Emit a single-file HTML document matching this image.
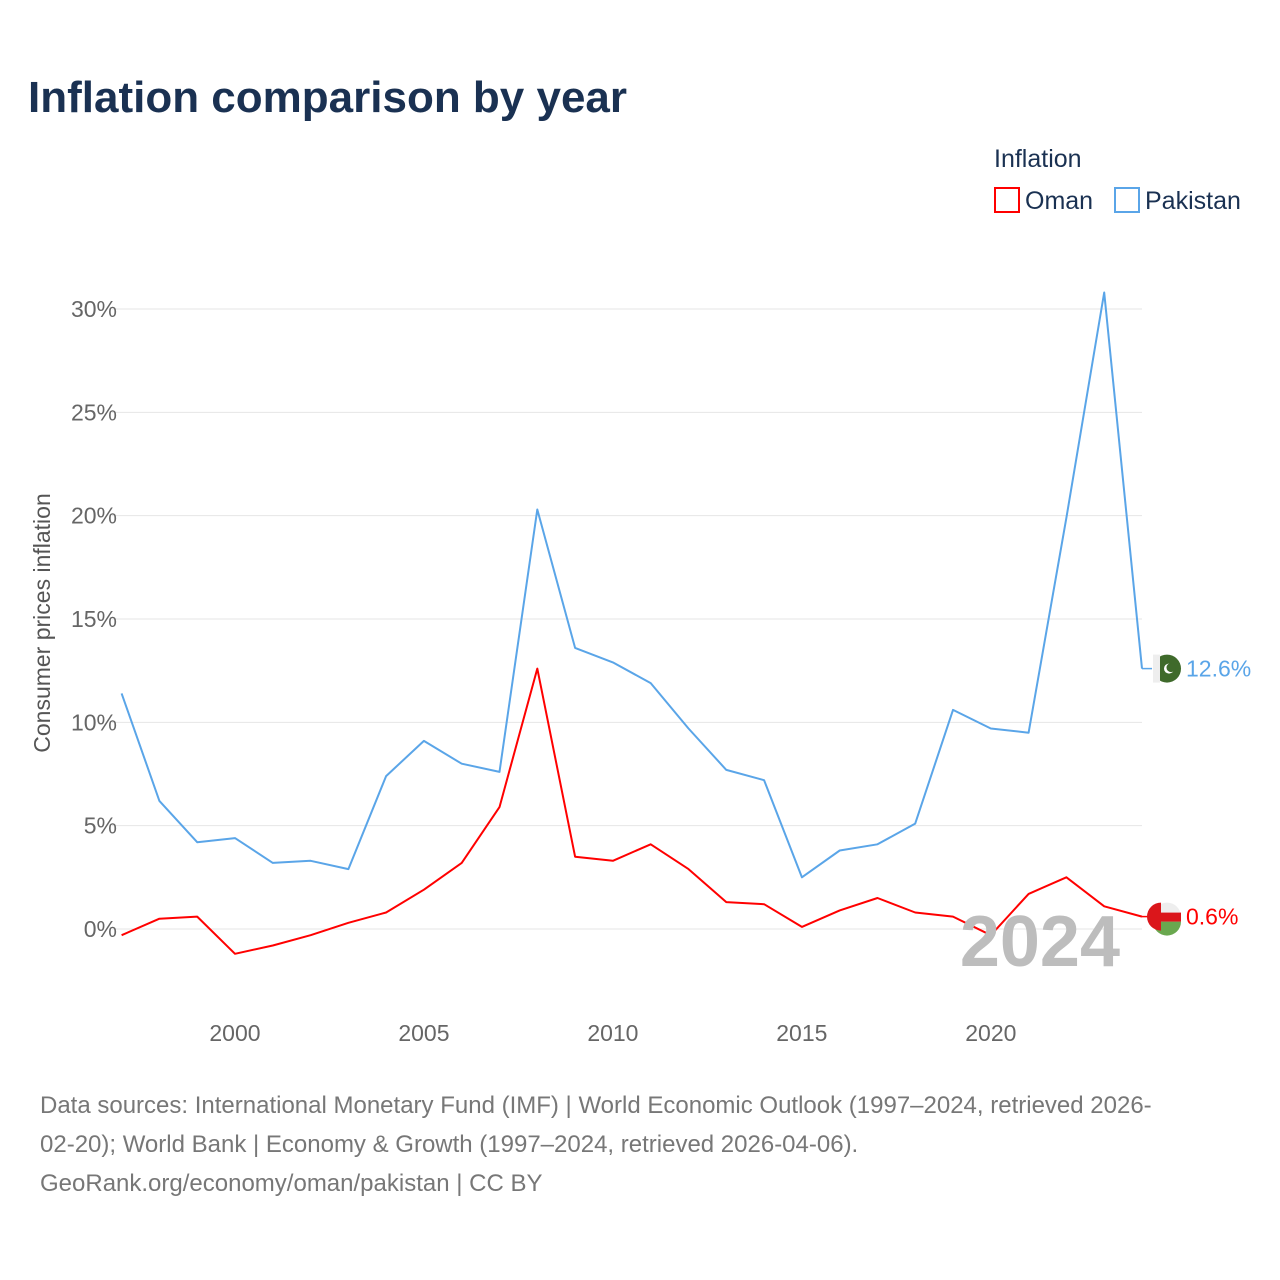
<!DOCTYPE html>
<html><head><meta charset="utf-8">
<style>
body{margin:0;background:#fff;font-family:"Liberation Sans",sans-serif;}
#wrap{position:relative;width:1280px;height:1280px;overflow:hidden;}
</style></head>
<body><div id="wrap">
<svg id="chart" width="1280" height="1280" xmlns="http://www.w3.org/2000/svg">
<text x="28" y="112" font-size="44" font-weight="bold" fill="#1a3152">Inflation comparison by year</text>
<text x="994" y="167" font-size="25" fill="#1a3152">Inflation</text>
<g><rect x="995" y="188" width="24" height="24" fill="none" stroke="#ff0000" stroke-width="2"/><text x="1025" y="209" font-size="25" fill="#1a3152">Oman</text></g>
<g><rect x="1115" y="188" width="24" height="24" fill="none" stroke="#5aa5e8" stroke-width="2"/><text x="1145" y="209" font-size="25" fill="#1a3152">Pakistan</text></g>
<g id="grid"></g>
<g id="lines"></g>
<text x="1120" y="966" font-size="72" font-weight="bold" fill="#bdbdbd" text-anchor="end">2024</text>
<g id="ends"></g>
<text transform="translate(50,623) rotate(-90)" font-size="23" fill="#555" text-anchor="middle">Consumer prices inflation</text>
<g font-size="24" fill="#777">
<text x="40" y="1113">Data sources: International Monetary Fund (IMF) | World Economic Outlook (1997–2024, retrieved 2026-</text>
<text x="40" y="1152">02-20); World Bank | Economy &amp; Growth (1997–2024, retrieved 2026-04-06).</text>
<text x="40" y="1191">GeoRank.org/economy/oman/pakistan | CC BY</text>
</g>
</svg>
<script>
const years=[1997,1998,1999,2000,2001,2002,2003,2004,2005,2006,2007,2008,2009,2010,2011,2012,2013,2014,2015,2016,2017,2018,2019,2020,2021,2022,2023,2024];
const pakistan=[11.4,6.2,4.2,4.4,3.2,3.3,2.9,7.4,9.1,8.0,7.6,20.3,13.6,12.9,11.9,9.7,7.7,7.2,2.5,3.8,4.1,5.1,10.6,9.7,9.5,19.9,30.8,12.6];
const oman=[-0.3,0.5,0.6,-1.2,-0.8,-0.3,0.3,0.8,1.9,3.2,5.9,12.6,3.5,3.3,4.1,2.9,1.3,1.2,0.1,0.9,1.5,0.8,0.6,-0.3,1.7,2.5,1.1,0.6];
const yTicks=[0,5,10,15,20,25,30];
const xTicks=[2000,2005,2010,2015,2020];
const NS='http://www.w3.org/2000/svg';
const x=v=>121.6+(v-1997)*(1142-121.6)/27;
const y=v=>929-v*20.667;
function mk(t,a,p){const e=document.createElementNS(NS,t);for(const k in a)e.setAttribute(k,a[k]);p.appendChild(e);return e;}
const grid=document.getElementById('grid');
yTicks.forEach(t=>{
 const l=mk('line',{x1:112,x2:1142,y1:y(t),y2:y(t),stroke:'#e6e6e6','stroke-width':1},grid);
 
 
 const tx=mk('text',{x:117,y:y(t)+8,'font-size':23,fill:'#666','text-anchor':'end'},grid);
 tx.textContent=t+'%';
 
 
});
xTicks.forEach(t=>{
 const tx=mk('text',{x:x(t),y:1041,'font-size':23,fill:'#666','text-anchor':'middle'},grid);
 tx.textContent=t;
 
 
});
const lines=document.getElementById('lines');
function series(vals,color,name){
 const d=vals.map((v,i)=>(i?'L':'M')+x(years[i]).toFixed(1)+','+y(v).toFixed(1)).join('');
 const p=mk('path',{d:d,fill:'none',stroke:color,'stroke-width':2,'stroke-linejoin':'round'},lines);
 
 
}
series(pakistan,'#5aa5e8','pakistan');
series(oman,'#ff0000','oman');
const ends=document.getElementById('ends');
function endLabel(vals,color,name,flag){
 const v=vals[vals.length-1],yy=y(v);
 mk('line',{x1:1142,x2:1152,y1:yy,y2:yy,stroke:color,'stroke-width':1.5},ends);
 const g=mk('g',{},ends);
 
 
 flag(g,1167,yy);
 const t=mk('text',{x:1186,y:yy+8,'font-size':23,fill:color},ends);
 t.textContent=v.toFixed(1)+'%';
 
 
}
endLabel(pakistan,'#5aa5e8','pakistan',(g,cx,cy)=>{
 mk('circle',{cx:cx,cy:cy,r:14,fill:'#3f6a2b'},g);
 mk('path',{d:`M${cx-14},${cy-14}h7v28h-7z`,fill:'#eee'},g);
 mk('circle',{cx:cx+2,cy:cy,r:5,fill:'#fff'},g);
 mk('circle',{cx:cx+4,cy:cy-1,r:4.5,fill:'#3f6a2b'},g);
});
endLabel(oman,'#ff0000','oman',(g,cx,cy)=>{
 mk('circle',{cx:cx,cy:cy,r:14,fill:'#eee'},g);
 mk('path',{d:`M${cx-14},${cy+5}A14,14 0 0 0 ${cx+14},${cy+5}z`,fill:'#6aa84f'},g);
 mk('rect',{x:cx-14,y:cy-4,width:28,height:9,fill:'#db161b'},g);
 mk('path',{d:`M${cx-6},${cy-14}v28A14,14 0 0 1 ${cx-6},${cy-14}z`,fill:'#db161b'},g);
});
</script>
</div></body></html>
